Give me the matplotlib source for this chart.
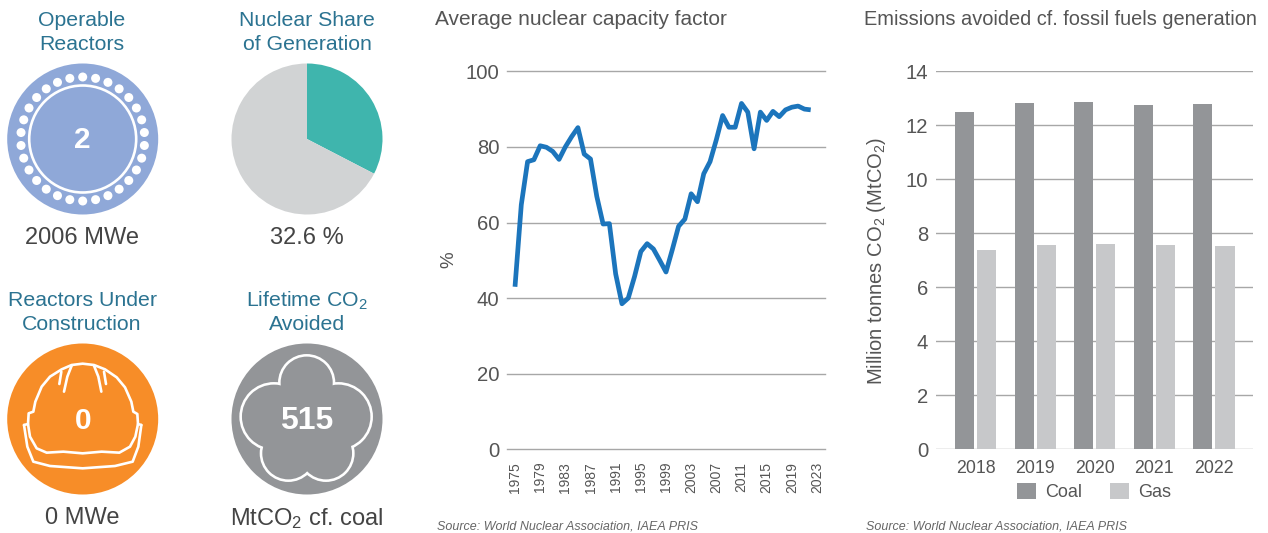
import numpy as np
import matplotlib
matplotlib.use('Agg')
import matplotlib.pyplot as plt
from matplotlib.patches import Circle
from matplotlib.ticker import FixedLocator

plt.rcParams['font.family'] = ['Liberation Sans', 'DejaVu Sans']
plt.rcParams['mathtext.default'] = 'regular'

# Données
years = list(range(1975, 2023))
capacity_factor = [43.0, 64.7, 76.1, 76.6, 80.3, 79.9, 78.8, 76.7, 80.0, 82.7,
                   85.1, 78.1, 76.8, 66.9, 59.6, 59.7, 46.4, 38.5, 40.0, 45.7,
                   52.3, 54.4, 53.0, 50.0, 46.9, 52.8, 59.0, 60.9, 67.6, 65.5,
                   72.9, 76.1, 81.9, 88.3, 85.2, 85.2, 91.5, 89.2, 79.5, 89.2,
                   87.0, 89.4, 88.0, 89.8, 90.5, 90.8, 90.0, 89.8]
year_ticks = list(range(1975, 2024, 4))

bar_years = ['2018', '2019', '2020', '2021', '2022']
coal = [12.49, 12.83, 12.86, 12.75, 12.79]
gas = [7.38, 7.57, 7.60, 7.57, 7.53]

nuclear_share = 32.6

# Couleurs
TITLE = '#2b7391'
DARK = '#444444'
AXIS_TXT = '#555555'
GRID = '#a7a7a7'
BLUE = '#1c75bc'
TEAL = '#3fb5ad'
PIE_GREY = '#d1d3d4'
PERIWINKLE = '#8fa8d8'
ORANGE = '#f78d28'
COAL_C = '#939598'
GAS_C = '#c7c8ca'

W, H = 1268, 533
fig = plt.figure(figsize=(W / 100, H / 100), dpi=100)


def rect(x0, y0, x1, y1):
    """Boîte en pixels (origine en haut à gauche) vers coordonnées figure."""
    return [x0 / W, 1 - y1 / H, (x1 - x0) / W, (y1 - y0) / H]


# Calque en pixels pour les pictogrammes et les textes
px = fig.add_axes([0, 0, 1, 1])
px.set_xlim(0, W)
px.set_ylim(H, 0)
px.axis('off')


def label(x, y, s, color=DARK, size=15.3, **kw):
    kw.setdefault('ha', 'center')
    px.text(x, y + 1.5, s, color=color, fontsize=size, va='center', **kw)


# ── Réacteurs en service
cx, cy, r = 82.7, 139, 75.5
px.add_patch(Circle((cx, cy), r, fc=PERIWINKLE, ec='none'))
px.add_patch(Circle((cx, cy), 53.5, fc='none', ec='white', lw=1.9))
for a in np.radians(np.arange(6, 366, 12)):
    px.add_patch(Circle((cx + 62 * np.cos(a), cy + 62 * np.sin(a)), 4.5,
                        fc='white', ec='none'))
label(cx, cy, '2', color='white', size=21.5, fontweight='bold')

# ── Part du nucléaire
pie_ax = fig.add_axes(rect(307 - 75.5, 139 - 75.5, 307 + 75.5, 139 + 75.5))
pie_ax.pie([nuclear_share, 100 - nuclear_share], colors=[TEAL, PIE_GREY],
           startangle=90, counterclock=False, radius=1.0)
pie_ax.set_xlim(-1, 1)
pie_ax.set_ylim(-1, 1)

# ── Casque de chantier
cx, cy = 82.7, 419
px.add_patch(Circle((cx, cy), 75.5, fc=ORANGE, ec='none'))


def zoom_xy(pts):
    arr = np.array(pts, dtype=float)
    return arr[:, 0] / 3, 270 + arr[:, 1] / 3


helmet = [
    # coque
    [(72, 465), (84, 462), (86, 430), (100, 425), (106, 395), (125, 350),
     (150, 320), (185, 298), (215, 285), (248, 281), (282, 285), (315, 298),
     (350, 322), (375, 352), (394, 395), (400, 425), (412, 432), (414, 462),
     (424, 465)],
    # visière intérieure
    [(84, 462), (90, 500), (110, 535), (140, 548), (190, 545), (248, 550),
     (305, 545), (358, 548), (390, 530), (406, 500), (414, 462)],
    # visière extérieure
    [(72, 465), (82, 530), (100, 575), (150, 588), (248, 595), (345, 588),
     (398, 575), (415, 530), (424, 465)],
    # nervures
    [(215, 287), (202, 320), (192, 365)],
    [(282, 287), (295, 320), (304, 365)],
    [(184, 305), (178, 342)],
    [(312, 305), (318, 342)],
]
for part in helmet:
    xs, ys = zoom_xy(part)
    px.plot(xs, ys, color='white', lw=1.9, solid_joinstyle='round',
            solid_capstyle='round')
label(cx, 419.5, '0', color='white', size=21.5, fontweight='bold')

# ── Nuage CO2
cx, cy = 307, 419
px.add_patch(Circle((cx, cy), 75.5, fc=COAL_C, ec='none'))
lobes = [(920, 338, 82), (822, 440, 100), (1015, 440, 100),
         (865, 550, 82), (978, 550, 82), (920, 450, 110)]
for lx, ly, lr in lobes:
    px.add_patch(Circle((lx / 3, 270 + ly / 3), lr / 3 + 1.3, fc='white', ec='none'))
for lx, ly, lr in lobes:
    px.add_patch(Circle((lx / 3, 270 + ly / 3), lr / 3 - 1.3, fc=COAL_C, ec='none'))
label(cx, 419.5, '515', color='white', size=23, fontweight='bold')

# ── Titres et valeurs des pictogrammes
label(82, 19, 'Operable', color=TITLE)
label(82, 43, 'Reactors', color=TITLE)
label(307, 19, 'Nuclear Share', color=TITLE)
label(307, 43, 'of Generation', color=TITLE)
label(82, 299, 'Reactors Under', color=TITLE)
label(82, 323, 'Construction', color=TITLE)
label(307, 299, 'Lifetime CO$_2$', color=TITLE)
label(307, 323, 'Avoided', color=TITLE)
label(82, 237, '2006 MWe', size=17)
label(307, 237, '32.6 %', size=17)
label(82, 517, '0 MWe', size=17)
label(307, 517, 'MtCO$_2$ cf. coal', size=17)

# ── Facteur de charge moyen
ax1 = fig.add_axes(rect(507, 71.3, 825, 449.3))
ax1.plot(years, capacity_factor, color=BLUE, lw=3.4, solid_joinstyle='round',
         solid_capstyle='butt', zorder=3)
ax1.set_xlim(1975 - 8 / 6.29, 2023 + 8 / 6.29)
ax1.set_ylim(0, 100)
ax1.yaxis.set_major_locator(FixedLocator([0, 20, 40, 60, 80, 100]))
ax1.set_xticks(year_ticks)
ax1.set_xticklabels(year_ticks, rotation=90, fontsize=10, color=AXIS_TXT)
ax1.tick_params(axis='both', length=0)
ax1.tick_params(axis='x', pad=9)
ax1.tick_params(axis='y', labelsize=14.6, labelcolor=AXIS_TXT, pad=5.5)
ax1.grid(axis='y', color=GRID, lw=1.0)
ax1.set_axisbelow(True)
for s in ax1.spines.values():
    s.set_visible(False)
for t in ax1.yaxis.get_gridlines():
    t.set_clip_on(False)

label(435, 18, 'Average nuclear capacity factor', color=AXIS_TXT, size=15, ha='left')
label(449, 258, '%', color=AXIS_TXT, size=13.5, rotation=90)
label(437, 525, 'Source: World Nuclear Association, IAEA PRIS', color='#666666',
      size=9, ha='left', style='italic')

# ── Émissions évitées
ax2 = fig.add_axes(rect(936, 71.3, 1253.3, 449.3))
x = np.arange(len(bar_years))
ax2.bar(x - 0.185, coal, width=0.32, color=COAL_C, label='Coal', zorder=2)
ax2.bar(x + 0.185, gas, width=0.32, color=GAS_C, label='Gas', zorder=2)
ax2.set_xlim(-0.663, 4.66)
ax2.set_ylim(0, 14)
ax2.set_yticks(range(0, 15, 2))
ax2.set_xticks(x)
ax2.set_xticklabels(bar_years)
ax2.tick_params(axis='both', length=0)
ax2.tick_params(axis='x', labelsize=12.8, labelcolor=AXIS_TXT, pad=8)
ax2.tick_params(axis='y', labelsize=14.6, labelcolor=AXIS_TXT, pad=5.5)
ax2.grid(axis='y', color=GRID, lw=1.0, zorder=0)
ax2.set_axisbelow(True)
for s in ax2.spines.values():
    s.set_visible(False)
ax2.legend(loc='center', bbox_to_anchor=(1094 / W, 1 - 492 / H),
           bbox_transform=fig.transFigure, ncol=2, frameon=False, fontsize=13,
           labelcolor=AXIS_TXT, handlelength=1.05, handleheight=1.05,
           handletextpad=0.55, columnspacing=1.5, borderpad=0, borderaxespad=0)

label(877, 259.5, 'Million tonnes CO$_2$ (MtCO$_2$)', color=AXIS_TXT, size=14.5, rotation=90)
label(864, 18, 'Emissions avoided cf. fossil fuels generation', color=AXIS_TXT,
      size=14.4, ha='left')
label(866, 525, 'Source: World Nuclear Association, IAEA PRIS', color='#666666',
      size=9, ha='left', style='italic')

fig.savefig('out.png', dpi=100, facecolor='white')
